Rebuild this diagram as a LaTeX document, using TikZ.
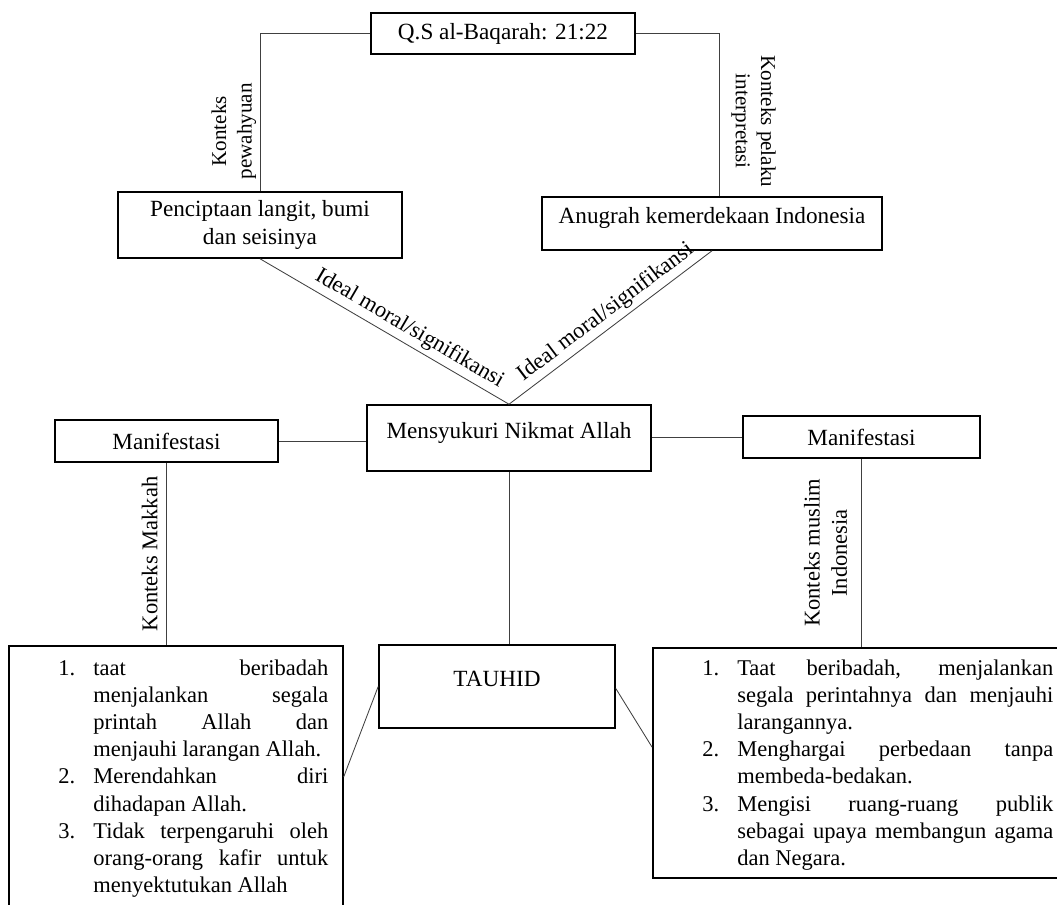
\documentclass[tikz,border=0pt]{standalone}
\usepackage{fontspec}
\setmainfont{Liberation Serif}
\usetikzlibrary{positioning, calc}
\tolerance=9999
\hyphenpenalty=10000
\exhyphenpenalty=10000
\newcommand{\butir}[2]{\par\noindent\hangindent=0.875cm\hangafter=1\makebox[0.875cm][l]{#1}#2\par}

\begin{document}
\begin{tikzpicture}[x=0.025cm, y=-0.025cm]
    \tikzset{
      kotak/.style={draw=black, line width=1.1pt, inner sep=0pt, align=center, font=\fontsize{16.5}{20}\selectfont},
      naik/.style={text height=11pt, text depth=10.5pt},
      garis/.style={draw=black!75, line width=0.6pt},
      teks/.style={font=\fontsize{16}{19.3}\selectfont, inner sep=0pt},
      teksatas/.style={font=\fontsize{15}{18}\selectfont, inner sep=0pt},
      daftar/.style={teks, align=justify, anchor=north west}
    }
    \useasboundingbox (0,0) rectangle (1057,905);

    \node[kotak, minimum width=6.6cm, minimum height=1.025cm] (qs) at (503,33.5) {Q.S al-Baqarah: 21:22};
    \node[kotak, minimum width=7.1cm, minimum height=1.65cm] (cipta) at (260,225) {Penciptaan langit, bumi\\dan seisinya};
    \node[kotak, naik, minimum width=8.5cm, minimum height=1.325cm] (anugrah) at (712,223.5) {Anugrah kemerdekaan Indonesia};
    \node[kotak, naik, minimum width=7.1cm, minimum height=1.65cm] (mensyukuri) at (509,438) {Mensyukuri Nikmat Allah};
    \node[kotak, minimum width=5.575cm, minimum height=1.05cm] (manifL) at (166.5,441) {Manifestasi};
    \node[kotak, minimum width=5.925cm, minimum height=1.05cm] (manifR) at (861.5,437) {Manifestasi};
    \node[kotak, naik, minimum width=5.9cm, minimum height=2.075cm] (tauhid) at (497,686.5) {TAUHID};
    \node[kotak, anchor=north west, minimum width=8.35cm, minimum height=6.875cm] (makkah) at (8,645) {};
    \node[kotak, anchor=north west, minimum width=10.45cm, minimum height=5.75cm] (indo) at (652,647) {};

    \node[daftar, text width=6.75cm] (makkahtxt) at (58,648) {
      \butir{1.}{taat beribadah menjalankan segala printah Allah dan menjauhi larangan Allah.}
      \butir{2.}{Merendahkan diri dihadapan Allah.}
      \butir{3.}{Tidak terpengaruhi oleh orang-orang kafir untuk menyektutukan Allah}
    };
    \node[daftar, text width=8.775cm] (indotxt) at (702,648) {
      \butir{1.}{Taat beribadah, menjalankan segala perintahnya dan menjauhi larangannya.}
      \butir{2.}{Menghargai perbedaan tanpa membeda-bedakan.}
      \butir{3.}{Mengisi ruang-ruang publik sebagai upaya membangun agama dan Negara.}
    };

    \draw[garis] (qs.west) -| (cipta.north)
      node[teksatas, pos=0.81, rotate=90, anchor=south, inner sep=2.5pt, align=center] {Konteks\\pewahyuan};
    \draw[garis] (qs.east) -| ([xshift=0.175cm]anugrah.north)
      node[teksatas, pos=0.77, rotate=-90, anchor=south, inner sep=8.5pt, align=center] {Konteks pelaku\\interpretasi};
    \draw[garis] (cipta.south) -- node[teks, pos=0.57, sloped, above, inner sep=3pt] {Ideal moral/signifikansi} (mensyukuri.north);
    \draw[garis] (mensyukuri.north) -- node[teks, pos=0.52, sloped, above, inner sep=3pt] {Ideal moral/signifikansi} (anugrah.south);
    \draw[garis] (manifL.east) -- (manifL.east -| mensyukuri.west);
    \draw[garis] (mensyukuri.east |- manifR.west) -- (manifR.west);
    \draw[garis] (manifL.south) -- node[teks, rotate=90, anchor=south, inner sep=6pt] {Konteks Makkah} (manifL.south |- makkah.north);
    \draw[garis] (manifR.south) -- node[teks, rotate=90, anchor=south, inner sep=10pt, align=center] {Konteks muslim\\Indonesia} (manifR.south |- indo.north);
    \draw[garis] (mensyukuri.south) -- (mensyukuri.south |- tauhid.north);
    \draw[garis] (tauhid.west) -- ([yshift=-3.3cm]makkah.north east);
    \draw[garis] ([yshift=-0.05cm]tauhid.east) -- ([yshift=-2.5cm]indo.north west);
\end{tikzpicture}
\end{document}
